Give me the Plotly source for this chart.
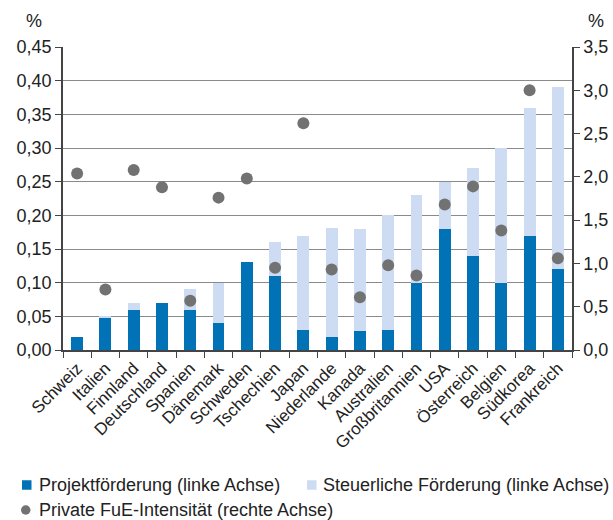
import plotly.graph_objects as go

countries = ["Schweiz", "Italien", "Finnland", "Deutschland", "Spanien", "Dänemark",
             "Schweden", "Tschechien", "Japan", "Niederlande", "Kanada", "Australien",
             "Großbritannien", "USA", "Österreich", "Belgien", "Südkorea", "Frankreich"]
projekt = [0.02, 0.048, 0.06, 0.07, 0.06, 0.04, 0.13, 0.11, 0.03, 0.02, 0.028, 0.03,
           0.10, 0.18, 0.14, 0.10, 0.17, 0.12]
gesamt = [0.02, 0.05, 0.07, 0.07, 0.09, 0.10, 0.13, 0.16, 0.17, 0.181, 0.18, 0.20,
          0.23, 0.25, 0.27, 0.30, 0.36, 0.39]
steuer = [round(g - p, 4) for g, p in zip(gesamt, projekt)]
privat = [2.04, 0.70, 2.08, 1.88, 0.57, 1.76, 1.98, 0.95, 2.62, 0.93, 0.61, 0.98,
          0.86, 1.68, 1.89, 1.38, 3.00, 1.06]

left_ticks = [i * 0.05 for i in range(10)]
right_ticks = [i * 0.5 for i in range(8)]

names = ["Projektförderung (linke Achse)", "Steuerliche Förderung (linke Achse)",
         "Private FuE-Intensität (rechte Achse)"]

FONT = "Liberation Sans, Arial, Helvetica, sans-serif"
TXT = "#222222"
AX = "#444444"
C_PROJ = "#0072b5"
C_STEU = "#cddbf3"
C_DOT = "#727272"

W, H = 613, 520
ML, MR, MT, MB = 63, 41, 47, 170
PW, PH = W - ML - MR, H - MT - MB


def px(x):
    return (x - ML) / PW


def py(y):
    return (H - MB - y) / PH


fig = go.Figure()
fig.add_trace(go.Bar(x=countries, y=projekt, name=names[0],
                     marker=dict(color=C_PROJ, line=dict(width=0)), width=0.42))
fig.add_trace(go.Bar(x=countries, y=steuer, name=names[1],
                     marker=dict(color=C_STEU, line=dict(width=0)), width=0.42))
fig.add_trace(go.Scatter(x=countries, y=privat, yaxis="y2", mode="markers",
                         name=names[2], marker=dict(color=C_DOT, size=12)))

fig.update_layout(
    width=W, height=H,
    barmode="stack",
    separators=",.",
    paper_bgcolor="white", plot_bgcolor="white",
    font=dict(family=FONT, color=TXT, size=18),
    margin=dict(l=ML, r=MR, t=MT, b=MB),
    showlegend=False,
    xaxis=dict(range=[-0.5, len(countries) - 0.5], tickangle=-45, ticks="outside",
               tickson="boundaries", ticklen=6,
               tickcolor=AX, showline=True, linecolor=AX, linewidth=1.5,
               showgrid=False, automargin=False, tickfont=dict(size=17, color=TXT)),
    yaxis=dict(range=[0, 0.45], tickvals=left_ticks, tickformat=".2f",
               ticks="outside", ticklen=6, tickcolor=AX,
               showline=True, linecolor=AX, linewidth=1.5,
               showgrid=True, gridcolor="#8a8a8a", gridwidth=1, automargin=False,
               zeroline=False, tickfont=dict(size=18, color=TXT)),
    yaxis2=dict(range=[0, 3.5], tickvals=right_ticks, tickformat=".1f",
                overlaying="y", side="right", ticks="outside", ticklen=6,
                tickcolor=AX, showline=True, linecolor=AX, linewidth=1.5,
                showgrid=False, zeroline=False, automargin=False,
                tickfont=dict(size=18, color=TXT)),
)

# axis unit labels
fig.add_annotation(text="%", xref="paper", yref="paper", x=px(34), y=py(20.5),
                   xanchor="center", yanchor="middle",
                   showarrow=False, font=dict(size=18, color=TXT))
fig.add_annotation(text="%", xref="paper", yref="paper", x=px(595.5), y=py(20.5),
                   xanchor="center", yanchor="middle",
                   showarrow=False, font=dict(size=18, color=TXT))

# legend (drawn manually to match the reference layout)
legend_items = [
    dict(kind="rect", color=C_PROJ, sx=22, sy=485, tx=37, name=names[0]),
    dict(kind="rect", color=C_STEU, sx=307, sy=485, tx=321, name=names[1]),
    dict(kind="circle", color=C_DOT, sx=21, sy=510, tx=37, name=names[2]),
]
for it in legend_items:
    fig.add_shape(type=it["kind"], xref="paper", yref="paper",
                  x0=px(it["sx"]), x1=px(it["sx"] + 9.5),
                  y0=py(it["sy"] - 4.75), y1=py(it["sy"] + 4.75),
                  fillcolor=it["color"], line=dict(width=0), layer="above")
    fig.add_annotation(text=it["name"], xref="paper", yref="paper",
                       x=px(it["tx"]), y=py(it["sy"]), xanchor="left",
                       yanchor="middle", showarrow=False,
                       font=dict(size=18, color=TXT))

fig.write_html("out.html", config={"displayModeBar": False},
               post_script="document.body.style.margin='0';")
